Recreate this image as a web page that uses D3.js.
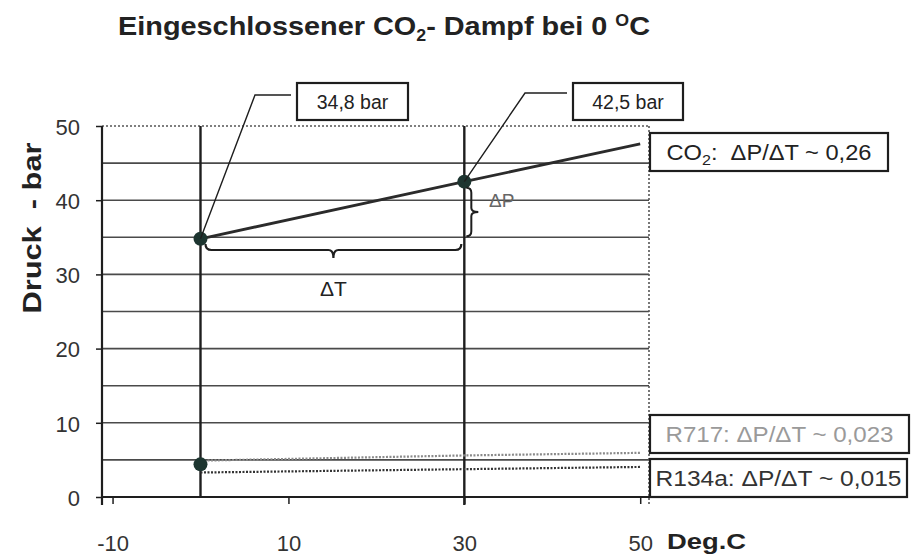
<!DOCTYPE html>
<html><head><meta charset="utf-8">
<script src="https://cdn.jsdelivr.net/npm/d3@7"></script>
<style>body{margin:0;background:#fff}svg{display:block}text{font-family:"Liberation Sans",Arial,sans-serif}</style>
</head><body><svg id="c" width="912" height="555"></svg>
<script>
const temps = [0, 30, 50];
const co2 = [34.8, 42.5, 47.6];
const r717 = [4.9, 5.6, 5.95];
const r134a = [3.3, 3.75, 4.05];
const markTemps = [0, 30];
const xTickLabels = [-10, 10, 30, 50];
const yTickLabels = [0, 10, 20, 30, 40, 50];
const gridValues = [5, 10, 15, 20, 25, 30, 35, 40, 45];
const callouts = ["34,8 bar", "42,5 bar"];
const legendLabels = ["CO\u2082:\u00a0\u00a0\u0394P/\u0394T ~ 0,26", "R717: \u0394P/\u0394T ~ 0,023", "R134a: \u0394P/\u0394T ~ 0,015"];

const svg = d3.select("#c");
const x = d3.scaleLinear().domain([-11.2, 51]).range([102, 649]);
const y = d3.scaleLinear().domain([0, 50]).range([497, 126]);
const ink = "#1e1e1e";

// gridlines
svg.append("g").selectAll("line").data(gridValues).join("line")
  .attr("x1", x.range()[0]).attr("x2", x.range()[1])
  .attr("y1", d => y(d)).attr("y2", d => y(d))
  .attr("stroke", "#4a4a4a").attr("stroke-width", 1.6);
svg.append("line").attr("x1", x.range()[0]).attr("x2", x.range()[1]).attr("y1", y(50)).attr("y2", y(50))
  .attr("stroke", "#555").attr("stroke-width", 1.6).attr("stroke-dasharray", "2,2");
svg.append("line").attr("x1", x.range()[1]).attr("x2", x.range()[1]).attr("y1", y(50)).attr("y2", y(0) + 8)
  .attr("stroke", "#555").attr("stroke-width", 1.6).attr("stroke-dasharray", "2,2");

// y axis
const yAxis = svg.append("g").attr("transform", `translate(${x.range()[0]},0)`)
  .call(d3.axisLeft(y).tickValues(yTickLabels).tickSize(6).tickPadding(16));
yAxis.select(".domain").attr("stroke", ink).attr("stroke-width", 2.2).attr("d", `M0,${y(50)}V${y(0) + 8}`);
yAxis.selectAll(".tick line").attr("stroke", ink).attr("stroke-width", 1.5);
yAxis.selectAll(".tick text").attr("font-size", 22).attr("fill", "#333").attr("font-family", "Liberation Sans").attr("dy", "0.38em");

// x axis
const xAxis = svg.append("g").attr("transform", `translate(0,${y(0)})`)
  .call(d3.axisBottom(x).tickValues(xTickLabels).tickSize(7).tickPadding(31).tickFormat(d => String(d)));
xAxis.select(".domain").attr("stroke", ink).attr("stroke-width", 2).attr("d", `M${x.range()[0]},0H${x.range()[1]}`);
xAxis.selectAll(".tick line").attr("stroke", ink).attr("stroke-width", 1.5);
xAxis.selectAll(".tick text").attr("font-size", 22).attr("fill", "#333").attr("font-family", "Liberation Sans");

// vertical marker lines
svg.append("g").selectAll("line").data(markTemps).join("line")
  .attr("x1", d => x(d)).attr("x2", d => x(d)).attr("y1", y(50)).attr("y2", d => y(0) + (d ? 8 : 0))
  .attr("stroke", ink).attr("stroke-width", 2.4);

// series lines
const line = vals => d3.line().x((d, i) => x(temps[i])).y(d => y(d))(vals);
svg.append("path").attr("d", line(r717)).attr("fill", "none").attr("stroke", "#8a8a8a").attr("stroke-width", 2.2).attr("stroke-dasharray", "2,1.5");
svg.append("path").attr("d", line(r134a)).attr("fill", "none").attr("stroke", "#333").attr("stroke-width", 2.2).attr("stroke-dasharray", "2,1.5");
svg.append("path").attr("d", line(co2)).attr("fill", "none").attr("stroke", "#2b2b2b").attr("stroke-width", 2.8);

// points
svg.append("g").selectAll("circle").data(markTemps).join("circle")
  .attr("cx", d => x(d)).attr("cy", (d, i) => y(co2[i])).attr("r", 7).attr("fill", "#1d3530");
svg.append("circle").attr("cx", x(0)).attr("cy", y(4.4)).attr("r", 7).attr("fill", "#1d3530");

// callouts
const boxes = [{ x0: 297, y0: 83, w: 111, h: 37, lx: 255, ly: 95 }, { x0: 573, y0: 83, w: 110, h: 37, lx: 525, ly: 93 }];
boxes.forEach((b, i) => {
  const px = x(markTemps[i]), py = y(co2[i]);
  svg.append("path").attr("d", `M${px},${py}L${b.lx},${b.ly}H${b.x0 - 6}`).attr("fill", "none").attr("stroke", ink).attr("stroke-width", 1.4);
  svg.append("rect").attr("x", b.x0).attr("y", b.y0).attr("width", b.w).attr("height", b.h).attr("fill", "#fff").attr("stroke", ink).attr("stroke-width", 2.2);
  svg.append("text").attr("x", b.x0 + b.w / 2).attr("y", b.y0 + b.h / 2 + 7).attr("text-anchor", "middle")
    .attr("font-size", 19.5).attr("fill", "#222").text(callouts[i]);
});

// legend boxes
const leg = [{ y0: 133, h: 38, w: 238, col: "#222", tl: 205 }, { y0: 415, h: 38, w: 259, col: "#9a9a9a", tl: 228 }, { y0: 459, h: 38, w: 257, col: "#333", tl: 246 }];
leg.forEach((b, i) => {
  svg.append("rect").attr("x", 650).attr("y", b.y0).attr("width", b.w).attr("height", b.h).attr("fill", "#fff").attr("stroke", ink).attr("stroke-width", 2.2);
  const t = svg.append("text").attr("x", 650 + b.w / 2).attr("y", b.y0 + b.h / 2 + 7.5).attr("text-anchor", "middle")
    .attr("font-size", 22).attr("fill", b.col).attr("textLength", b.tl).attr("lengthAdjust", "spacingAndGlyphs");
  if (i === 0) {
    t.append("tspan").text("CO");
    t.append("tspan").attr("font-size", 15).attr("dy", 5).text("2");
    t.append("tspan").attr("dy", -5).text(":\u00a0\u00a0\u0394P/\u0394T ~ 0,26");
  } else t.text(legendLabels[i]);
});

// delta T brace
const bx0 = x(0) + 5, bx1 = x(30) - 3, by = 250, bm = (bx0 + bx1) / 2;
svg.append("path").attr("d", `M${bx0},${by - 6}Q${bx0},${by} ${bx0 + 6},${by}H${bm - 5}Q${bm},${by} ${bm},${by + 8}Q${bm},${by} ${bm + 5},${by}H${bx1 - 6}Q${bx1},${by} ${bx1},${by - 6}`)
  .attr("fill", "none").attr("stroke", ink).attr("stroke-width", 2.2);
svg.append("text").attr("x", bm).attr("y", 296).attr("text-anchor", "middle").attr("font-size", 21).attr("fill", "#222").text("\u0394T");

// delta P brace
const vx = x(30) + 7, vy0 = y(co2[1]) + 6, vy1 = y(35) - 1, vm = (vy0 + vy1) / 2;
svg.append("path").attr("d", `M${vx - 5},${vy0}Q${vx},${vy0} ${vx},${vy0 + 5}V${vm - 4}Q${vx},${vm} ${vx + 7},${vm}Q${vx},${vm} ${vx},${vm + 4}V${vy1 - 5}Q${vx},${vy1} ${vx - 5},${vy1}`)
  .attr("fill", "none").attr("stroke", ink).attr("stroke-width", 2);
svg.append("text").attr("x", 489).attr("y", 207).attr("font-size", 19).attr("fill", "#666").text("\u0394P");

// title
const title = svg.append("text").attr("x", 118).attr("y", 35).attr("font-size", 26).attr("font-weight", "bold").attr("fill", "#222")
  .attr("textLength", 532).attr("lengthAdjust", "spacingAndGlyphs");
title.append("tspan").text("Eingeschlossener CO");
title.append("tspan").attr("font-size", 16).attr("dy", 6).text("2");
title.append("tspan").attr("dy", -6).text("- Dampf bei 0 ");
title.append("tspan").attr("font-size", 16).attr("dy", -9).text("O");
title.append("tspan").attr("dy", 9).text("C");

// axis titles
svg.append("text").attr("transform", "translate(41,228) rotate(-90)").attr("text-anchor", "middle")
  .attr("font-size", 25).attr("font-weight", "bold").attr("fill", "#222")
  .attr("textLength", 171).attr("lengthAdjust", "spacingAndGlyphs").text("Druck\u00a0 - bar");
svg.append("text").attr("x", 667).attr("y", 549).attr("font-size", 22).attr("font-weight", "bold").attr("fill", "#222")
  .attr("textLength", 79).attr("lengthAdjust", "spacingAndGlyphs").text("Deg.C");
</script></body></html>
